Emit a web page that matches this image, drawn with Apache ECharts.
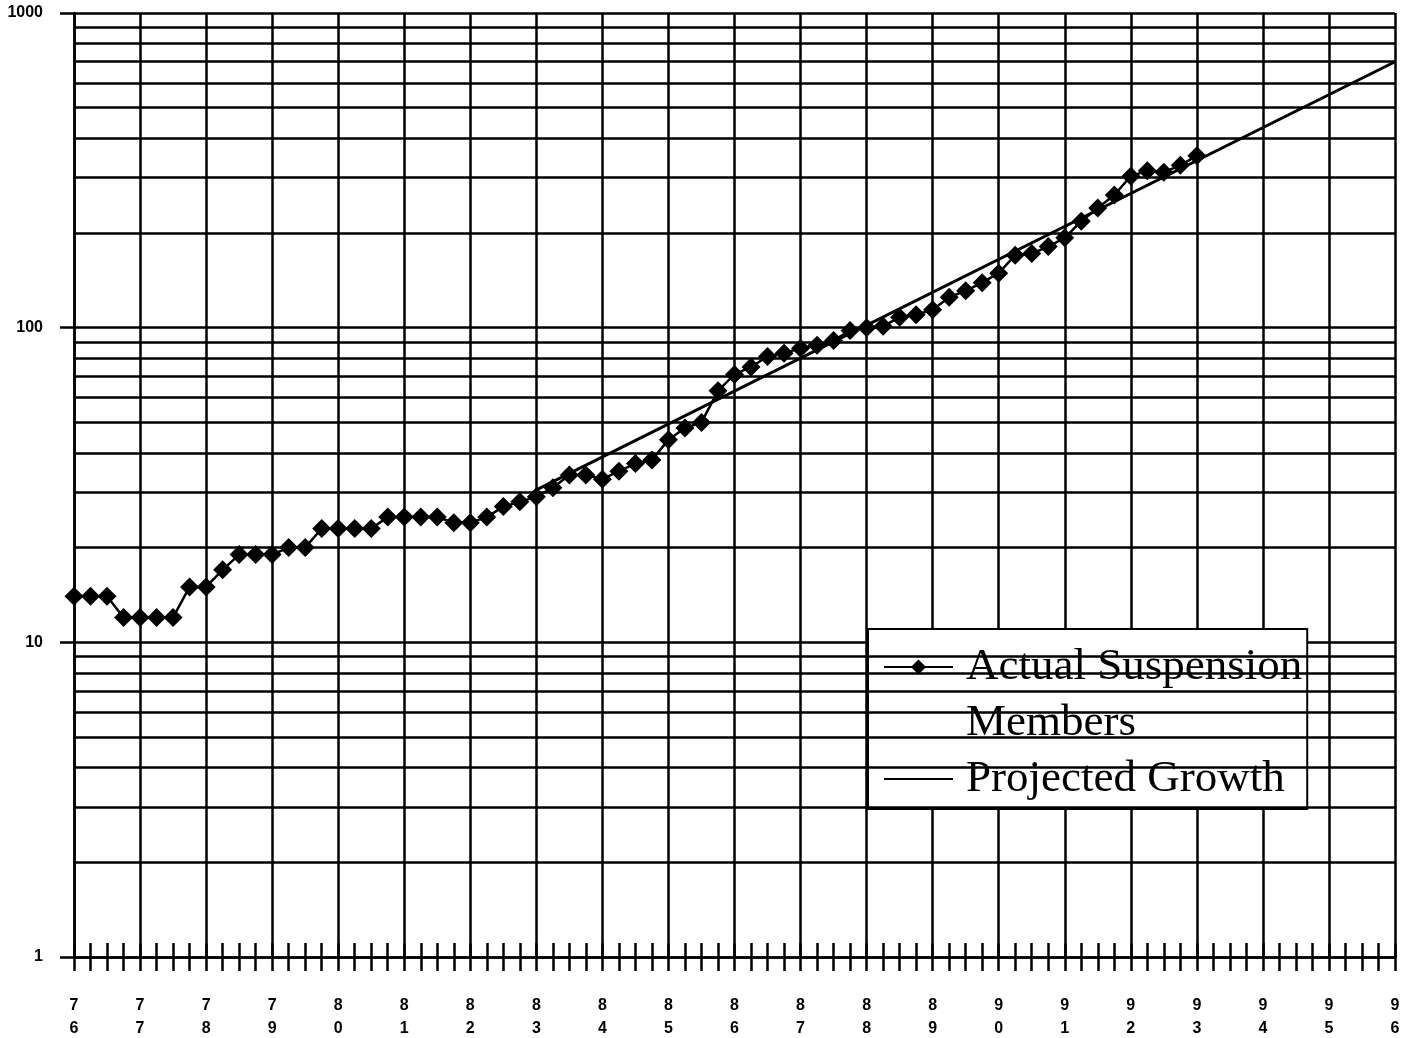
<!DOCTYPE html>
<html><head><meta charset="utf-8">
<script src="https://cdn.jsdelivr.net/npm/echarts@6/dist/echarts.min.js"></script>
<style>html,body{margin:0;padding:0;background:#fff}#c{width:1407px;height:1038px}</style>
</head><body><div id="c"></div>
<script>
// Quarterly time points (year, two-digit)
const quarters = [
  76,76.25,76.5,76.75, 77,77.25,77.5,77.75, 78,78.25,78.5,78.75,
  79,79.25,79.5,79.75, 80,80.25,80.5,80.75, 81,81.25,81.5,81.75,
  82,82.25,82.5,82.75, 83,83.25,83.5,83.75, 84,84.25,84.5,84.75,
  85,85.25,85.5,85.75, 86,86.25,86.5,86.75, 87,87.25,87.5,87.75,
  88,88.25,88.5,88.75, 89,89.25,89.5,89.75, 90,90.25,90.5,90.75,
  91,91.25,91.5,91.75, 92,92.25,92.5,92.75, 93
];
// Actual suspension members
const actual = [
  14,14,14,12, 12,12,12,15, 15,17,19,19,
  19,20,20,23, 23,23,23,25, 25,25,25,24,
  24,25,27,28, 29,31,34,34, 33,35,37,38,
  44,48,50,63, 71,75,81,83, 86,88,91,98,
  100,101,108,110, 114,125,131,139, 149,170,172,181,
  193,218,240,264, 303,315,312,328, 352
];
// Projected growth line endpoints
const projYears = [83, 96];
const projected = [30.5, 700];
// Log-paper minor horizontal grid values
const minorGrid = [2,3,4,5,6,7,8,9, 20,30,40,50,60,70,80,90, 200,300,400,500,600,700,800,900];
// Axis ranges
const xMin = 76, xMax = 96;
const yMin = 1, yMax = 1000;

const chart = echarts.init(document.getElementById('c'), null, {renderer: 'canvas'});
const black = '#000';
const GW = 2.5;
const xBase = {
  type: 'value', min: xMin, max: xMax, interval: 1, position: 'bottom', gridIndex: 0
};
chart.setOption({
  animation: false,
  backgroundColor: '#fff',
  grid: {left: 74, right: 12, top: 13, bottom: 81, containLabel: false, outerBoundsMode: 'none'},
  xAxis: [
    Object.assign({}, xBase, {
      axisLine: {show: true, lineStyle: {color: black, width: GW}},
      axisTick: {show: true, inside: false, length: 14, lineStyle: {color: black, width: GW}},
      minorTick: {show: true, splitNumber: 4, length: 14, lineStyle: {color: black, width: GW}},
      splitLine: {show: true, lineStyle: {color: black, width: GW}},
      minorSplitLine: {show: false},
      axisLabel: {
        show: true, margin: 37, color: black, fontFamily: 'Liberation Sans', fontWeight: 'bold',
        fontSize: 16, lineHeight: 23,
        formatter: v => { const s = String(Math.round(v)); return s[0] + '\n' + s[1]; }
      }
    }),
    Object.assign({}, xBase, {
      axisLine: {show: false},
      axisTick: {show: true, inside: true, length: 14, lineStyle: {color: black, width: GW}},
      minorTick: {show: true, splitNumber: 4, length: 14, lineStyle: {color: black, width: GW}},
      splitLine: {show: false},
      axisLabel: {show: false}
    })
  ],
  yAxis: {
    type: 'log', logBase: 10, min: yMin, max: yMax,
    axisLine: {show: true, lineStyle: {color: black, width: GW}},
    axisTick: {show: true, length: 14, lineStyle: {color: black, width: GW}},
    splitLine: {show: true, lineStyle: {color: black, width: GW}},
    minorTick: {show: false}, minorSplitLine: {show: false},
    axisLabel: {
      margin: 31, color: black, fontFamily: 'Liberation Sans', fontWeight: 'bold', fontSize: 16,
      formatter: v => String(Math.round(v))
    }
  },
  legend: {
    orient: 'vertical', left: 868, top: 629,
    padding: [15, 5, 7, 15],
    itemWidth: 69, itemHeight: 19, itemGap: 5,
    backgroundColor: '#fff', borderColor: black, borderWidth: 2, borderRadius: 0,
    selectedMode: false,
    textStyle: {fontFamily: 'Liberation Serif', fontSize: 45, color: black, lineHeight: 46, padding: [0, 0, 0, 8]},
    data: [
      {name: 'Actual Suspension'},
      {name: 'Members', icon: 'none', textStyle: {padding: [0, 0, 10, 8]}},
      {name: 'Projected Growth', itemStyle: {opacity: 0, color: 'rgba(0,0,0,0)'}}
    ]
  },
  series: [
    {
      name: 'Actual Suspension', type: 'line', xAxisIndex: 0, yAxisIndex: 0,
      data: quarters.map((q, i) => [q, actual[i]]),
      symbol: 'diamond', symbolSize: 19, showAllSymbol: true,
      itemStyle: {color: black, borderWidth: 0},
      lineStyle: {color: black, width: 2.5},
      z: 4, silent: true
    },
    {
      name: 'Members', type: 'line', xAxisIndex: 0, data: [],
      itemStyle: {color: black}, lineStyle: {color: black, width: 0}, symbol: 'none'
    },
    {
      name: 'Projected Growth', type: 'line', xAxisIndex: 0, yAxisIndex: 0,
      data: projYears.map((y, i) => [y, projected[i]]),
      symbol: 'none', showSymbol: false,
      lineStyle: {color: black, width: 3},
      itemStyle: {color: black},
      z: 3, silent: true,
      markLine: {
        silent: true, symbol: ['none', 'none'], animation: false,
        label: {show: false},
        lineStyle: {color: black, width: GW, type: 'solid'},
        emphasis: {disabled: true},
        data: minorGrid.map(v => ({yAxis: v}))
      }
    }
  ]
});
</script>
</body></html>
